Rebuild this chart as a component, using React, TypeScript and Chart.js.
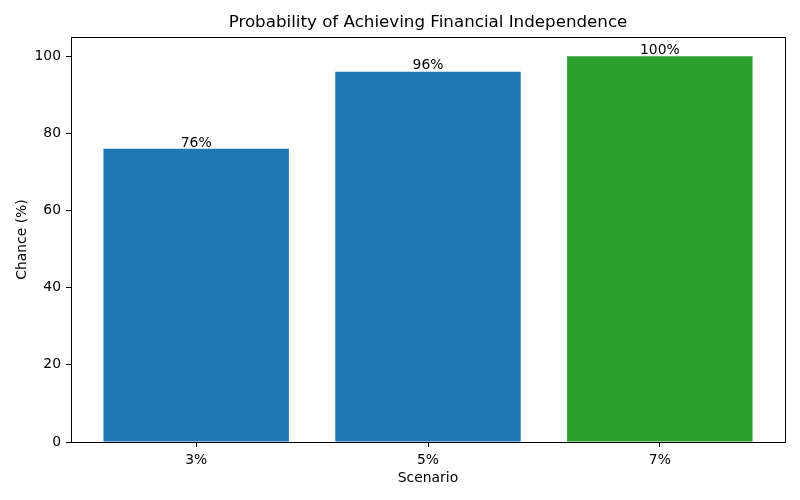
import { useEffect, useRef } from 'react';
import { Chart, registerables } from 'chart.js';

Chart.register(...registerables);

// chart data
const scenarios = ['3%', '5%', '7%'];
const chances = [76, 96, 100];
const barColors = ['#1f77b4', '#1f77b4', '#2ca02c'];
const yTicks = [0, 20, 40, 60, 80, 100];

const FONT = 'DejaVu Sans';
const TICK_SIZE = 13.9;

// title, frame and value labels, matplotlib style
const decorations = {
  id: 'decorations',
  afterDraw(chart: Chart) {
    const { ctx, chartArea } = chart;
    const y = chart.scales.y;
    const x = chart.scales.x;
    ctx.save();

    ctx.strokeStyle = '#000';
    ctx.lineWidth = 1;
    ctx.strokeRect(
      Math.round(chartArea.left) + 0.5,
      Math.round(chartArea.top) + 0.5,
      Math.round(chartArea.right - chartArea.left),
      Math.round(chartArea.bottom - chartArea.top)
    );

    ctx.fillStyle = '#000';
    ctx.textAlign = 'center';
    ctx.textBaseline = 'bottom';
    ctx.font = `${TICK_SIZE}px "${FONT}"`;
    chances.forEach((v, i) => {
      ctx.fillText(`${v}%`, x.getPixelForValue(i), y.getPixelForValue(v) + 1);
    });

    ctx.font = `16.7px "${FONT}"`;
    ctx.textBaseline = 'middle';
    ctx.fillText(
      'Probability of Achieving Financial Independence',
      (chartArea.left + chartArea.right) / 2,
      23
    );
    ctx.restore();
  },
};

const App = () => {
  const chartRef = useRef<HTMLCanvasElement>(null);
  const chartInstance = useRef<Chart | null>(null);

  useEffect(() => {
    document.body.style.margin = '0';
    if (!chartRef.current) return;
    if (chartInstance.current) chartInstance.current.destroy();

    const ctx = chartRef.current.getContext('2d');
    if (!ctx) return;

    chartInstance.current = new Chart(ctx, {
      type: 'bar',
      data: {
        datasets: [
          {
            data: chances.map((v, i) => ({ x: i, y: v })),
            backgroundColor: barColors,
            borderColor: barColors,
            borderWidth: 0,
            inflateAmount: 0,
            barPercentage: 0.8,
            categoryPercentage: 1,
          },
        ],
      },
      options: {
        responsive: false,
        animation: false,
        layout: { padding: { top: 37, right: 15, left: 0, bottom: 0 } },
        plugins: {
          legend: { display: false },
          tooltip: { enabled: false },
          title: { display: false },
        },
        scales: {
          x: {
            type: 'linear',
            min: -0.54,
            max: 2.54,
            offset: false,
            afterFit: (s: any) => {
              s.height = 58;
            },
            afterBuildTicks: (s: any) => {
              s.ticks = scenarios.map((_, i) => ({ value: i }));
            },
            grid: {
              display: true,
              drawOnChartArea: false,
              drawTicks: true,
              tickLength: 5,
              color: '#000',
              offset: false,
            },
            border: { display: false },
            ticks: {
              color: '#000',
              padding: 5,
              maxRotation: 0,
              font: { family: FONT, size: TICK_SIZE },
              callback: (v: any) => scenarios[v] ?? '',
            },
            title: {
              display: true,
              text: 'Scenario',
              color: '#000',
              font: { family: FONT, size: TICK_SIZE },
              padding: { top: 0, bottom: 13 },
            },
          },
          y: {
            min: 0,
            max: 105,
            afterFit: (s: any) => {
              s.width = 71;
            },
            afterBuildTicks: (s: any) => {
              s.ticks = yTicks.map((v) => ({ value: v }));
            },
            grid: {
              display: true,
              drawOnChartArea: false,
              drawTicks: true,
              tickLength: 5,
              color: '#000',
            },
            border: { display: false },
            ticks: {
              color: '#000',
              padding: 5,
              font: { family: FONT, size: TICK_SIZE },
            },
            title: {
              display: true,
              text: 'Chance (%)',
              color: '#000',
              font: { family: FONT, size: TICK_SIZE },
              padding: { top: 14, bottom: 0 },
            },
          },
        },
      },
      plugins: [decorations],
    });

    return () => {
      if (chartInstance.current) {
        chartInstance.current.destroy();
        chartInstance.current = null;
      }
    };
  }, []);

  return (
    <div style={{ width: 800, height: 500 }}>
      <canvas ref={chartRef} width={800} height={500} />
    </div>
  );
};

export default App;
